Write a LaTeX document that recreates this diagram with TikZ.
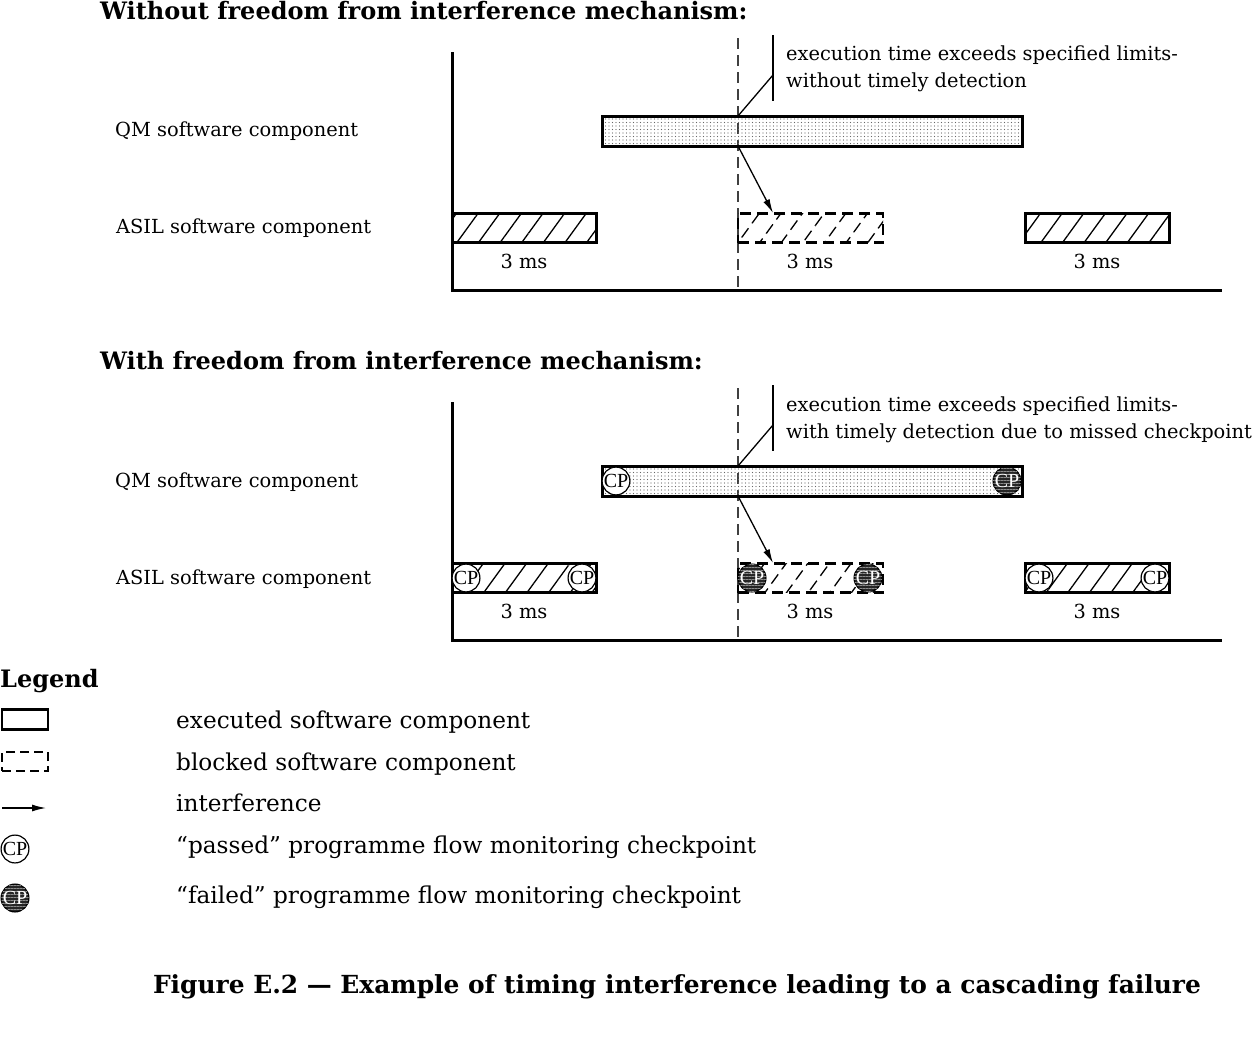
\documentclass[tikz,border=0pt]{standalone}
\usepackage{fontspec}
\setmainfont{DejaVu Serif}
\newfontfamily\cpfont{Liberation Serif}
\usetikzlibrary{patterns.meta,arrows.meta}
\begin{document}
\begin{tikzpicture}[x=1pt,y=-1pt,
 txt/.style={font=\fontsize{19.4}{23}\selectfont, inner sep=0pt, anchor=mid west},
 ttl/.style={font=\bfseries\fontsize{24}{28}\selectfont, inner sep=0pt, anchor=mid west},
 leg/.style={font=\fontsize{23.2}{27}\selectfont, inner sep=0pt, anchor=mid west},
 ms/.style={font=\fontsize{19.4}{23}\selectfont, inner sep=0pt, anchor=mid},
 axisline/.style={line width=3pt},
 dashline/.style={line width=1.5pt, dash pattern=on 11pt off 6pt, black!75},
 thinline/.style={line width=1.3pt},
 arr/.style={line width=1.3pt, -{Latex[length=14pt,width=7pt]}},
 qmbar/.style={draw, line width=3pt, minimum height=30pt, inner sep=0pt, pattern={Dots[distance=3.5pt, radius=0.6pt]}, pattern color=black!60},
 asilbar/.style={draw, line width=3pt, minimum height=29pt, minimum width=144pt, inner sep=0pt, pattern={Lines[angle=54, distance=17.5pt, line width=1.3pt]}},
 blockbar/.style={draw, line width=2.2pt, dash pattern=on 11pt off 6pt, minimum height=29pt, minimum width=145pt, inner sep=0pt, pattern={Lines[angle=54, distance=17.5pt, line width=1.3pt]}},
 cpok/.style={circle, draw, line width=1.2pt, fill=white, minimum size=27pt, inner sep=0pt, font=\cpfont\fontsize{20}{20}\selectfont},
 cpfail/.style={circle, draw, line width=1.2pt, fill=black!85, text=white, minimum size=27pt, inner sep=0pt, font=\cpfont\fontsize{20}{20}\selectfont, postaction={pattern={Lines[angle=0, distance=3pt, line width=0.7pt]}, pattern color=black!45}},
]
\useasboundingbox (0,0) rectangle (1256,1050);

% ---------- top diagram ----------
\node[ttl] (t1) at (100,17) {Without freedom from interference mechanism:};
\coordinate (a1top) at (452,52);
\coordinate (a1o) at (452,290);
\coordinate (a1end) at (1222,290);
\draw[axisline] (a1top) -- (a1o) -- (a1end);
\coordinate (d1top) at (738,38);
\coordinate (d1bot) at (738,290);
\draw[dashline] (d1top) -- (d1bot);

\node[qmbar, minimum width=420pt] (qm1) at (812,131) {};
\node[asilbar] (as1a) at (524,228) {};
\node[blockbar] (as1b) at (810.5,228) {};
\node[asilbar] (as1c) at (1097,228) {};

\coordinate (m1top) at (773,35);
\coordinate (m1bot) at (773,101);
\coordinate (m1k) at (773,75);
\coordinate (m1q) at (738,116);
\draw[line width=2.5pt] (m1top) -- (m1bot);
\draw[thinline] (m1k) -- (m1q);
\coordinate (i1s) at (738,146);
\coordinate (i1e) at (773,213);
\draw[arr] (i1s) -- (i1e);

\node[txt] (n1a) at (786,58) {execution time exceeds specified limits-};
\node[txt] (n1b) at (786,85) {without timely detection};
\node[txt] (q1) at (115,134) {QM software component};
\node[txt] (s1) at (116,231) {ASIL software component};
\node[ms] (ms1a) at (524,266) {3 ms};
\node[ms] (ms1b) at (810,266) {3 ms};
\node[ms] (ms1c) at (1097,266) {3 ms};

% ---------- bottom diagram ----------
\node[ttl] (t2) at (100,367) {With freedom from interference mechanism:};
\coordinate (a2top) at (452,402);
\coordinate (a2o) at (452,640);
\coordinate (a2end) at (1222,640);
\draw[axisline] (a2top) -- (a2o) -- (a2end);
\coordinate (d2top) at (738,388);
\coordinate (d2bot) at (738,640);
\draw[dashline] (d2top) -- (d2bot);

\node[qmbar, minimum width=420pt] (qm2) at (812,481) {};
\node[asilbar] (as2a) at (524,578) {};
\node[blockbar] (as2b) at (810.5,578) {};
\node[asilbar] (as2c) at (1097,578) {};

\node[cpok] (cq1) at (616,481) {CP};
\node[cpfail] (cq2) at (1007,481) {CP};
\node[cpok] (c1) at (466,578) {CP};
\node[cpok] (c2) at (582,578) {CP};
\node[cpfail] (c3) at (752,578) {CP};
\node[cpfail] (c4) at (868,578) {CP};
\node[cpok] (c5) at (1039,578) {CP};
\node[cpok] (c6) at (1155,578) {CP};

\coordinate (m2top) at (773,385);
\coordinate (m2bot) at (773,451);
\coordinate (m2k) at (773,425);
\coordinate (m2q) at (738,466);
\draw[line width=2.5pt] (m2top) -- (m2bot);
\draw[thinline] (m2k) -- (m2q);
\coordinate (i2s) at (738,496);
\coordinate (i2e) at (773,563);
\draw[arr] (i2s) -- (i2e);

\node[txt] (n2a) at (786,409) {execution time exceeds specified limits-};
\node[txt] (n2b) at (786,436) {with timely detection due to missed checkpoint};
\node[txt] (q2) at (115,485) {QM software component};
\node[txt] (s2) at (116,582) {ASIL software component};
\node[ms] (ms2a) at (524,616) {3 ms};
\node[ms] (ms2b) at (810,616) {3 ms};
\node[ms] (ms2c) at (1097,616) {3 ms};

% ---------- legend ----------
\node[ttl] (lg) at (0,685) {Legend};
\node[draw, line width=2.2pt, minimum width=46pt, minimum height=20pt, inner sep=0pt] (l1) at (25,719.5) {};
\node[draw, line width=1.5pt, dash pattern=on 9pt off 5pt, minimum width=46pt, minimum height=19pt, inner sep=0pt] (l2) at (25,761.5) {};
\coordinate (l3s) at (2,808);
\coordinate (l3e) at (46,808);
\draw[arr] (l3s) -- (l3e);
\node[cpok] (l4) at (15,849) {CP};
\node[cpfail] (l5) at (15,898) {CP};
\node[leg] (lt1) at (176,726) {executed software component};
\node[leg] (lt2) at (176,768) {blocked software component};
\node[leg] (lt3) at (176,809) {interference};
\node[leg] (lt4) at (176,851) {“passed” programme flow monitoring checkpoint};
\node[leg] (lt5) at (176,901) {“failed” programme flow monitoring checkpoint};

% ---------- caption ----------
\node[font=\bfseries\fontsize{24.9}{29}\selectfont, inner sep=0pt, anchor=mid] (cap) at (677,991) {Figure E.2 — Example of timing interference leading to a cascading failure};
\end{tikzpicture}
\end{document}
